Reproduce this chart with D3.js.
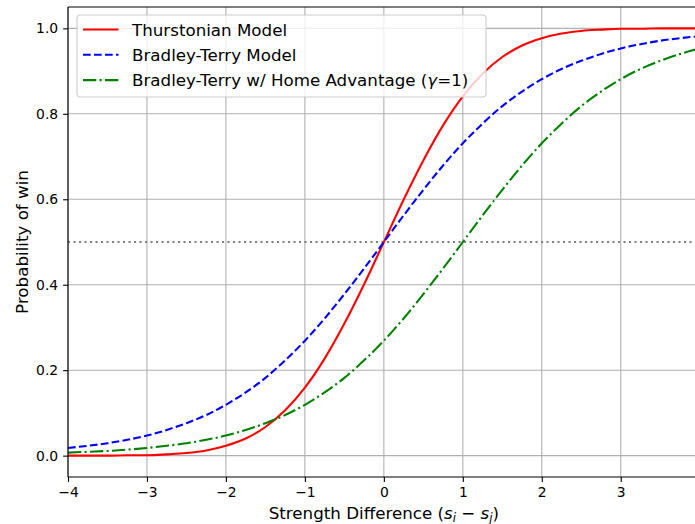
<!DOCTYPE html>
<html>
<head>
<meta charset="utf-8">
<script src="https://cdn.jsdelivr.net/npm/d3@7"></script>
<style>
  body { margin: 0; background: #fff; }
  svg { display: block; font-family: "DejaVu Sans", sans-serif; }
</style>
</head>
<body>
<svg id="chart" width="695" height="524"></svg>
<script>
// strength difference, read every 0.25
const xs = [-4, -3.75, -3.5, -3.25, -3, -2.75, -2.5, -2.25, -2, -1.75, -1.5, -1.25, -1, -0.75, -0.5, -0.25,
    0, 0.25, 0.5, 0.75, 1, 1.25, 1.5, 1.75, 2, 2.25, 2.5, 2.75, 3, 3.25, 3.5, 3.75, 4];

const thurstonian = [0.000, 0.000, 0.000, 0.001, 0.001, 0.003, 0.006, 0.012, 0.023, 0.040, 0.067, 0.106, 0.159, 0.227, 0.309, 0.401,
    0.500, 0.599, 0.691, 0.773, 0.841, 0.894, 0.933, 0.960, 0.977, 0.988, 0.994, 0.997, 0.999, 0.999, 1.000, 1.000, 1.000];

const bradleyTerry = [0.018, 0.023, 0.029, 0.037, 0.047, 0.060, 0.076, 0.095, 0.119, 0.148, 0.182, 0.223, 0.269, 0.321, 0.378, 0.438,
    0.500, 0.562, 0.622, 0.679, 0.731, 0.777, 0.818, 0.852, 0.881, 0.905, 0.924, 0.940, 0.953, 0.963, 0.971, 0.977, 0.982];

const homeAdvantage = [0.007, 0.009, 0.011, 0.014, 0.018, 0.023, 0.029, 0.037, 0.047, 0.060, 0.076, 0.095, 0.119, 0.148, 0.182, 0.223,
    0.269, 0.321, 0.378, 0.438, 0.500, 0.562, 0.622, 0.679, 0.731, 0.777, 0.818, 0.852, 0.881, 0.905, 0.924, 0.940, 0.953];

const xTicks = [-4, -3, -2, -1, 0, 1, 2, 3];
const yTicks = [0, 0.2, 0.4, 0.6, 0.8, 1.0];
const refLine = 0.5;

const series = [
    { name: "Thurstonian Model", values: thurstonian, color: "#ff0000", dash: null },
    { name: "Bradley-Terry Model", values: bradleyTerry, color: "#0000ff", dash: "7.7,3.3" },
    { name: "Bradley-Terry w/ Home Advantage", values: homeAdvantage, color: "#008000", dash: "13.3,3.3,2.1,3.3" }
];

const svg = d3.select("#chart");
const margin = { top: 7, left: 68, bottom: 477 };
const plotRight = 699.7;

const x = d3.scaleLinear().domain([-4, 4]).range([margin.left, plotRight]);
const y = d3.scaleLinear().domain([-0.05, 1.05]).range([margin.bottom, margin.top]);

svg.append("defs").append("clipPath").attr("id", "clip")
    .append("rect")
    .attr("x", margin.left).attr("y", margin.top)
    .attr("width", plotRight - margin.left).attr("height", margin.bottom - margin.top);

const fmtMinus = v => String(v).replace("-", "\u2212");

// grid
const grid = svg.append("g").attr("stroke", "#b0b0b0").attr("stroke-width", 1.1);
xTicks.forEach(t => {
    grid.append("line").attr("x1", x(t)).attr("x2", x(t)).attr("y1", margin.top).attr("y2", margin.bottom);
});
yTicks.forEach(t => {
    grid.append("line").attr("x1", margin.left).attr("x2", plotRight).attr("y1", y(t)).attr("y2", y(t));
});

// 0.5 reference
svg.append("line")
    .attr("x1", margin.left).attr("x2", plotRight)
    .attr("y1", y(refLine)).attr("y2", y(refLine))
    .attr("stroke", "#808080").attr("stroke-width", 2.08)
    .attr("stroke-dasharray", "2.1,3.4");

// curves
const line = d3.line()
    .x((d, i) => x(xs[i]))
    .y(d => y(d))
    .curve(d3.curveMonotoneX);

const curves = svg.append("g").attr("clip-path", "url(#clip)");
series.forEach(s => {
    curves.append("path")
        .attr("d", line(s.values))
        .attr("fill", "none")
        .attr("stroke", s.color)
        .attr("stroke-width", 2.08)
        .attr("stroke-dasharray", s.dash);
});

// axes
const xAxis = d3.axisBottom(x).tickValues(xTicks).tickFormat(fmtMinus).tickSize(4.9).tickPadding(4.9);
const yAxis = d3.axisLeft(y).tickValues(yTicks).tickFormat(d3.format(".1f")).tickSize(4.9).tickPadding(4.9);

const gx = svg.append("g").attr("transform", `translate(0,${margin.bottom})`).call(xAxis);
const gy = svg.append("g").attr("transform", `translate(${margin.left},0)`).call(yAxis);
[gx, gy].forEach(g => {
    g.select(".domain").remove();
    g.selectAll(".tick line").attr("stroke", "#000").attr("stroke-width", 1.1);
    g.selectAll(".tick text").attr("fill", "#000").style("font-size", "13.9px").style("font-family", "DejaVu Sans");
});

// spines
const spines = svg.append("g").attr("stroke", "#000").attr("stroke-width", 1.1);
spines.append("line").attr("x1", margin.left).attr("x2", margin.left).attr("y1", margin.top).attr("y2", margin.bottom);
spines.append("line").attr("x1", margin.left).attr("x2", plotRight).attr("y1", margin.bottom).attr("y2", margin.bottom);
spines.append("line").attr("x1", margin.left).attr("x2", plotRight).attr("y1", margin.top).attr("y2", margin.top);

// axis labels
const xl = svg.append("text")
    .attr("x", (margin.left + plotRight) / 2).attr("y", 519)
    .attr("text-anchor", "middle").style("font-size", "16.7px").attr("fill", "#000");
xl.append("tspan").text("Strength Difference (");
xl.append("tspan").style("font-style", "italic").text("s");
xl.append("tspan").style("font-size", "11.7px").style("font-style", "italic").attr("dy", 3).text("i");
xl.append("tspan").attr("dy", -3).text(" \u2212 ");
xl.append("tspan").style("font-style", "italic").text("s");
xl.append("tspan").style("font-size", "11.7px").style("font-style", "italic").attr("dy", 3).text("j");
xl.append("tspan").attr("dy", -3).text(")");

svg.append("text")
    .attr("transform", `translate(28,${(margin.top + margin.bottom) / 2}) rotate(-90)`)
    .attr("text-anchor", "middle").style("font-size", "16.7px").attr("fill", "#000")
    .text("Probability of win");

// legend
const legend = svg.append("g");
legend.append("rect")
    .attr("x", 77).attr("y", 15).attr("width", 409).attr("height", 82)
    .attr("rx", 3.5).attr("fill", "#fff").attr("fill-opacity", 0.8)
    .attr("stroke", "#cccccc").attr("stroke-width", 1.1);

series.forEach((s, i) => {
    const cy = 29.5 + i * 25.3;
    legend.append("line")
        .attr("x1", 83).attr("x2", 118.5).attr("y1", cy).attr("y2", cy)
        .attr("stroke", s.color).attr("stroke-width", 2.08)
        .attr("stroke-dasharray", s.dash);
    const t = legend.append("text")
        .attr("x", 132).attr("y", cy + 6)
        .style("font-size", "16.7px").attr("fill", "#000");
    t.append("tspan").text(s.name);
    if (i === 2) {
        t.append("tspan").text(" (");
        t.append("tspan").style("font-style", "italic").text("\u03b3");
        t.append("tspan").text("=1)");
    }
});
</script>
</body>
</html>
